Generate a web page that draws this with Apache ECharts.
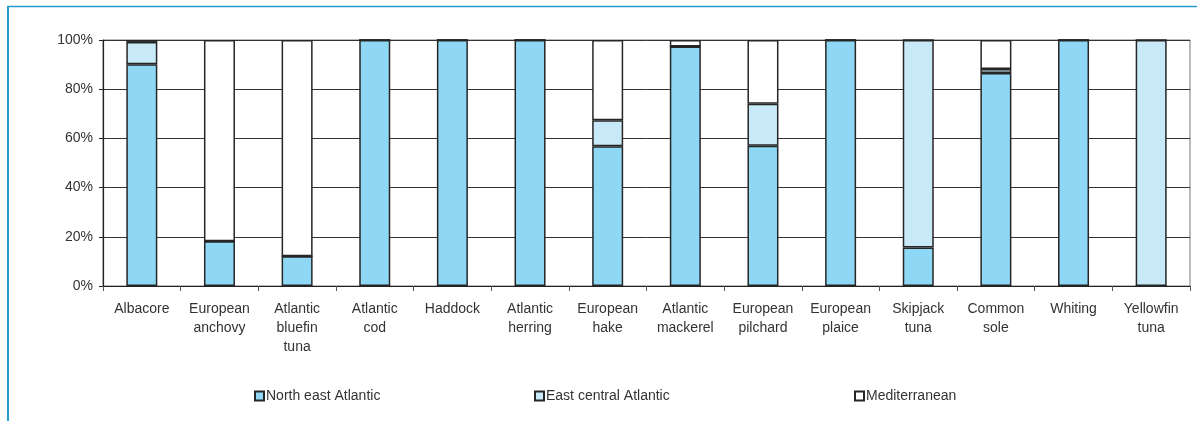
<!DOCTYPE html>
<html>
<head>
<meta charset="utf-8">
<script src="https://cdn.jsdelivr.net/npm/echarts@6/dist/echarts.min.js"></script>
<style>
html,body{margin:0;padding:0;background:#fff;}
#c{width:1197px;height:421px;}
</style>
</head>
<body>
<div id="c"></div>
<script>
var categories = ['Albacore','European\nanchovy','Atlantic\nbluefin\ntuna','Atlantic\ncod','Haddock','Atlantic\nherring','European\nhake','Atlantic\nmackerel','European\npilchard','European\nplaice','Skipjack\ntuna','Common\nsole','Whiting','Yellowfin\ntuna'];
var northEastAtlantic   = [90.1, 18.2, 12.1, 100, 100, 100, 56.8, 97.4, 57.0, 100, 15.6, 86.6, 100, 0];
var eastCentralAtlantic = [9.1, 0, 0, 0, 0, 0, 10.6, 0, 17.1, 0, 84.4, 1.6, 0, 100];
var mediterranean       = [0.8, 81.8, 87.9, 0, 0, 0, 32.6, 2.6, 25.9, 0, 0, 11.8, 0, 0];
var yTicks = [0, 20, 40, 60, 80, 100];

var font = 'Liberation Sans, Arial, sans-serif';
var chart = echarts.init(document.getElementById('c'), null, {renderer:'canvas'});
function ser(name, data, color){
  return {
    name: name, type: 'bar', stack: 'total', data: data, barWidth: 31,
    itemStyle: {color: color, borderColor: '#262626', borderWidth: 1.5},
    emphasis: {disabled: true}
  };
}
var legText = {fontSize: 14, color: '#333', padding: [0,0,0,-3], fontFamily: font};
chart.setOption({
  animation: false,
  textStyle: {fontFamily: font},
  grid: {left: 103, right: 7, top: 40, bottom: 135, show: true, borderColor: '#777', borderWidth: 1},
  xAxis: {
    type: 'category', data: categories,
    axisLine: {lineStyle: {color: '#222', width: 1.2}},
    axisTick: {show: true, alignWithLabel: false, length: 5, lineStyle: {color: '#555'}},
    axisLabel: {interval: 0, color: '#333', fontSize: 14, lineHeight: 19, margin: 14, fontFamily: font}
  },
  yAxis: {
    type: 'value', min: yTicks[0], max: yTicks[yTicks.length-1], interval: 20,
    axisLine: {show: true, lineStyle: {color: '#222', width: 1.2}},
    axisTick: {show: true, length: 4, lineStyle: {color: '#222'}},
    splitLine: {show: true, lineStyle: {color: '#333', width: 1}},
    axisLabel: {formatter: '{value}%', color: '#333', fontSize: 14, margin: 10, fontFamily: font}
  },
  legend: [
    {data: ['North east Atlantic'], icon: 'rect', left: 249, top: 384, itemWidth: 9, itemHeight: 9, textStyle: legText, selectedMode: false},
    {data: ['East central Atlantic'], icon: 'rect', left: 529, top: 384, itemWidth: 9, itemHeight: 9, textStyle: legText, selectedMode: false},
    {data: ['Mediterranean'], icon: 'rect', left: 849, top: 384, itemWidth: 9, itemHeight: 9, textStyle: legText, selectedMode: false}
  ],
  graphic: [
    {type: 'line', shape: {x1: 7, y1: 6.5, x2: 1197, y2: 6.5}, style: {stroke: '#2b9ad2', lineWidth: 1.5}, silent: true},
    {type: 'line', shape: {x1: 8, y1: 6, x2: 8, y2: 421}, style: {stroke: '#2b9ad2', lineWidth: 2}, silent: true}
  ],
  series: [
    ser('North east Atlantic', northEastAtlantic, '#8fd8f5'),
    ser('East central Atlantic', eastCentralAtlantic, '#c8e9f8'),
    ser('Mediterranean', mediterranean, '#ffffff')
  ]
});
</script>
</body>
</html>
